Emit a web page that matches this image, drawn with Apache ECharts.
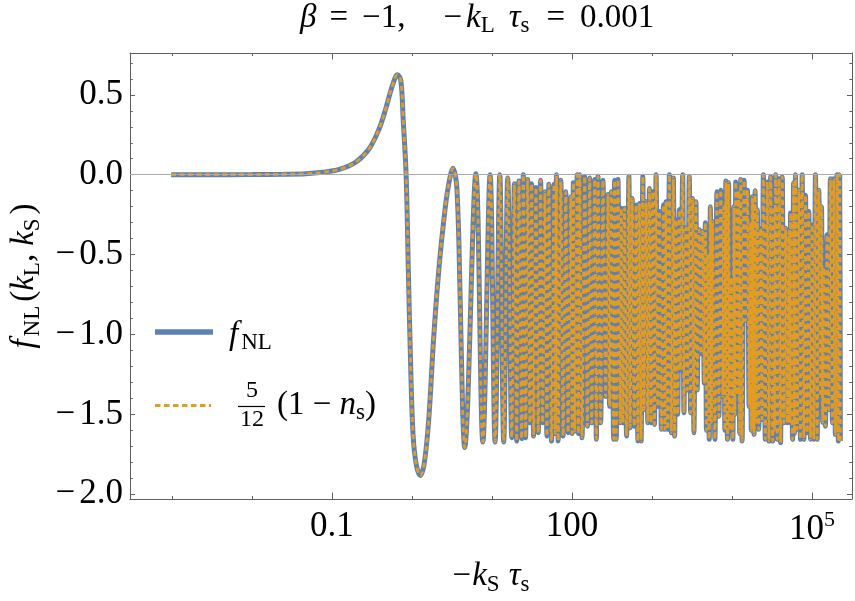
<!DOCTYPE html>
<html>
<head>
<meta charset="utf-8">
<script src="https://cdn.jsdelivr.net/npm/echarts@6/dist/echarts.min.js"></script>
<style>html,body{margin:0;padding:0;background:#fff}#c{width:855px;height:601px}</style>
</head>
<body>
<div id="c"></div>
<script>
// [log10(-kS tau_s), fNL]
const fNLPoints = [
[-3.01,0],[-2.5,0],[-2.0,0.001],[-1.6,0.003],[-1.326,0.006],[-1.118,0.015],[-0.910,0.033],[-0.704,0.078],
[-0.537,0.161],[-0.412,0.285],[-0.33,0.409],[-0.247,0.554],[-0.181,0.626],[-0.139,0.59],[-0.11,0.35],
[-0.073,0],[-0.045,-0.6],[-0.015,-1.22],[0.015,-1.636],[0.056,-1.82],[0.106,-1.883],[0.156,-1.80],
[0.21,-1.53],[0.272,-1.016],[0.335,-0.6],[0.397,-0.29],[0.45,-0.087],[0.513,0.04],[0.562,-0.087],
[0.604,-0.81],[0.635,-1.5],[0.658,-1.708],
[0.799,0.006],[0.886,-1.673],[0.977,0.0],[1.039,-1.673],[1.098,0.0],[1.147,-1.673],[1.197,-0.02],[1.247,-1.646],
[1.28,-0.056],[1.309,-1.667],[1.338,-0.04],[1.371,-1.652],[1.392,0.0],[1.421,-1.646],[1.446,-0.03],[1.475,-1.553],
[1.496,-0.056],[1.521,-1.636],[1.55,-0.08],[1.579,-1.615],[1.608,-0.035],[1.633,-1.553],[1.662,-0.107],[1.687,-1.636],
[1.712,-0.06],[1.745,-1.667],[1.776,-0.06],[1.792,-1.62],[1.807,0.0],[1.828,-1.667],[1.861,-0.035],[1.89,-1.636],
[1.923,-0.107],[1.952,-1.615],[1.986,-0.138],[2.002,-1.62],[2.018,-0.05],[2.035,-1.605],[2.066,0.0],[2.08,-1.62],
[2.0975,0.0],[2.1265,-1.646],[2.1597,-0.01],[2.193,-1.574],[2.222,-0.02],[2.247,-1.553],[2.284,-0.03],[2.305,-1.656],
[2.326,-0.01],[2.359,-1.553],[2.388,-0.035],[2.421,-1.388],[2.450,-0.124],[2.471,-1.45],[2.492,-0.107],[2.521,-1.656],
[2.533,-0.035],[2.554,-1.656],[2.575,-0.03],[2.604,-1.553],[2.616,-0.21],[2.637,-1.553],[2.658,-0.21],[2.683,-1.636],
[2.712,-0.01],[2.728,-1.584],[2.753,-0.149],[2.778,-1.574],[2.803,-0.19],[2.824,-1.667],[2.844,-0.18],[2.865,-1.667],
[2.886,-0.01],[2.902,-1.47],[2.927,-0.169],[2.948,-1.553],[2.969,-0.087],[2.990,-1.553],[3.010,-0.107],[3.031,-1.563],
[3.052,0.0],[3.073,-1.45],[3.093,-0.23],[3.118,-1.594],[3.143,-0.19],[3.160,-1.594],[3.176,-0.169],[3.197,-1.594],
[3.218,0.0],[3.243,-1.615],[3.268,-0.02],[3.284,-1.636],[3.301,-0.283],[3.322,-1.5],[3.342,-0.22],[3.355,-1.223],
[3.384,0.0],[3.400,-1.49],[3.425,-0.335],[3.442,-1.347],[3.467,-0.01],[3.483,-1.49],[3.508,-0.149],[3.525,-1.615],
[3.550,-0.169],[3.566,-1.347],[3.591,-0.345],[3.612,-1.12],[3.633,-0.355],[3.654,-1.305],[3.668,-0.3],[3.681,-1.6],
[3.695,-0.50],[3.716,-1.656],[3.73,-0.2],[3.744,-1.55],
[3.758,-0.293],[3.787,-1.656],[3.812,-0.107],[3.837,-1.512],[3.861,-0.097],[3.886,-1.388],[3.899,-0.2],[3.911,-1.6],
[3.924,-0.04],[3.944,-1.656],[3.958,-0.05],[3.972,-1.6],
[3.986,-0.644],[4.011,-1.656],[4.024,-0.2],[4.036,-1.5],[4.048,-0.045],[4.069,-1.378],[4.083,-0.1],[4.097,-1.62],
[4.110,-0.03],[4.127,-1.667],[4.152,-0.035],[4.169,-0.913],
[4.193,-0.097],[4.214,-1.45],[4.228,-0.3],[4.242,-1.6],[4.256,-0.138],[4.276,-1.625],[4.29,-0.1],[4.304,-1.55],
[4.318,-0.22],[4.335,-1.594],[4.359,-0.335],[4.376,-1.532],
[4.393,0.0],[4.417,-1.656],[4.442,-0.045],[4.463,-1.667],[4.484,-0.014],[4.509,-1.667],[4.521,-0.2],[4.533,-1.6],
[4.546,0.0],[4.567,-1.656],
[4.588,-0.025],[4.608,-1.677],[4.629,-0.014],[4.650,-1.553],[4.671,-0.335],[4.691,-1.553],[4.712,-0.355],[4.725,-1.553],
[4.733,-0.24],[4.758,-1.656],[4.77,-0.05],[4.782,-1.62],[4.795,0.0],[4.816,-1.594],[4.837,-0.097],[4.857,-1.656],
[4.878,0.0],[4.899,-1.656],
[4.920,-0.128],[4.940,-1.615],[4.961,-0.23],[4.982,-1.656],[5.003,-0.314],[5.023,-1.656],[5.044,0.0],[5.065,-1.656],
[5.086,-0.097],[5.106,-1.388],[5.12,-0.2],[5.134,-1.55],[5.148,-0.582],[5.169,-1.574],[5.189,-0.376],[5.210,-1.47],
[5.231,-0.025],[5.256,-1.553],
[5.272,-0.025],[5.293,-1.625],[5.314,0.0],[5.330,-1.667],[5.347,0.0],[5.355,-1.667]
];
// the approximation 5/12(1-ns) coincides with fNL on the picture
const approxPoints = fNLPoints;

const xRange = [2.988e-4, 3.168e5];
const yRange = [-2.03, 0.762];
const xMajorTicks = [0.1, 100, 1e5];
const xMinorTicks = [1e-3, 1e-2, 1, 10, 1000, 1e4];
const yMajorTicks = [-2, -1.5, -1, -0.5, 0, 0.5];
const yMinorTicks = [-1.9,-1.8,-1.7,-1.6,-1.4,-1.3,-1.2,-1.1,-0.9,-0.8,-0.7,-0.6,-0.4,-0.3,-0.2,-0.1,0.1,0.2,0.3,0.4,0.6,0.7];

const FONT = 'Liberation Serif';
const FRAME = '#5f5f5f';
const BLUE = '#5E81B5';
const ORANGE = '#E19C24';

function st(size, extra) {
  return Object.assign({fontFamily: FONT, fontSize: size, color: '#000'}, extra || {});
}
// tick labels
const richTick = {
  t: st(35),
  m: st(35, {padding: [0, 4, 0, 0]}),
  sup: st(22, {padding: [0, 0, 20, 0]})
};
// axis names, legend
const richName = {
  t: st(33),
  i: st(33, {fontStyle: 'italic'}),
  fi: st(33, {fontStyle: 'italic', padding: [0, 3, 0, 0]}),
  m: st(33, {padding: [0, 1, 0, 0]}),
  cm: st(33, {padding: [0, 8, 0, 0]}),
  sub: st(23, {padding: [16, 0, 0, 0]}),
  subg: st(23, {padding: [16, 9, 0, 0]}),
  subp: st(23, {padding: [16, 4, 0, 0]})
};
// title
const richTitle = {
  t: st(33),
  i: st(33, {fontStyle: 'italic'}),
  eq1: st(33, {padding: [0, 14, 0, 13]}),
  m1: st(33, {padding: [0, 4, 0, 38]}),
  tau: st(33, {fontStyle: 'italic', padding: [0, 0, 0, 14]}),
  eq2: st(33, {padding: [0, 15, 0, 17]}),
  sub: st(23, {padding: [16, 0, 0, 0]})
};

function toXY(p) { return [Math.pow(10, p[0]), p[1]]; }

function xAxisDef(pos, ticks, len, showLine, labels) {
  return {
    type: 'log', logBase: 10, position: pos, min: xRange[0], max: xRange[1],
    axisLine: {show: showLine, onZero: false, lineStyle: {color: FRAME, width: 1}},
    axisTick: {show: true, inside: true, length: len, customValues: ticks, lineStyle: {color: FRAME, width: 1}},
    axisLabel: labels ? {
      show: true, customValues: ticks, margin: 10,
      fontFamily: FONT, fontSize: 35, color: '#000',
      formatter: function (v) {
        const e = Math.round(Math.log10(v));
        if (e === -1) return '{t|0.1}';
        if (e === 2) return '{t|100}';
        return '{t|10}{sup|5}';
      },
      rich: richTick
    } : {show: false},
    splitLine: {show: false},
    minorTick: {show: false}, minorSplitLine: {show: false}
  };
}
function yAxisDef(pos, ticks, len, showLine, labels) {
  return {
    type: 'value', position: pos, min: yRange[0], max: yRange[1],
    axisLine: {show: showLine, onZero: false, lineStyle: {color: FRAME, width: 1}},
    axisTick: {show: true, inside: true, length: len, customValues: ticks, lineStyle: {color: FRAME, width: 1}},
    axisLabel: labels ? {
      show: true, customValues: ticks, margin: 7,
      fontFamily: FONT, fontSize: 35, color: '#000',
      formatter: function (v) {
        const r = Math.round(v * 10) / 10;
        return (r < 0 ? '{m|\u2212}' : '') + '{t|' + Math.abs(r).toFixed(1) + '}';
      },
      rich: richTick
    } : {show: false},
    splitLine: {show: false}
  };
}

const xAxes = [
  xAxisDef('bottom', xMajorTicks, 6.5, true, true),
  xAxisDef('bottom', xMinorTicks, 3, false, false),
  xAxisDef('top', xMajorTicks, 6.5, true, false),
  xAxisDef('top', xMinorTicks, 3, false, false)
];
Object.assign(xAxes[0], {
  name: '{m|\u2212}{i|k}{subg|S}{i|\u03c4}{sub|s}', nameLocation: 'middle', nameGap: 58,
  nameTextStyle: {rich: richName}
});
const yAxes = [
  yAxisDef('left', yMajorTicks, 5, true, true),
  yAxisDef('left', yMinorTicks, 2.7, false, false),
  yAxisDef('right', yMajorTicks, 5, true, false),
  yAxisDef('right', yMinorTicks, 2.7, false, false)
];
Object.assign(yAxes[0], {
  name: '{fi|f}{subp|NL}{t|(}{i|k}{sub|L}{cm|,}{i|k}{subp|S}{t|)}', nameLocation: 'middle', nameGap: 86,
  nameTextStyle: {rich: richName}
});

const chart = echarts.init(document.getElementById('c'), null, {renderer: 'canvas'});
chart.setOption({
  animation: false,
  backgroundColor: '#fff',
  grid: {left: 127, right: 3, top: 53, bottom: 98, containLabel: false},
  xAxis: xAxes,
  yAxis: yAxes,
  series: [
    {
      type: 'line', data: [], z: 1, silent: true,
      markLine: {silent: true, symbol: 'none', label: {show: false},
        lineStyle: {color: '#aaa', width: 1, type: 'solid'}, data: [{yAxis: 0}], animation: false}
    },
    {
      name: 'fNL', type: 'line', data: fNLPoints.map(toXY), showSymbol: false, symbol: 'none',
      smooth: 0.35, z: 2, lineStyle: {color: BLUE, width: 5}
    },
    {
      name: 'approx', type: 'line', data: approxPoints.map(toXY), showSymbol: false, symbol: 'none',
      smooth: 0.35, z: 3, lineStyle: {color: ORANGE, width: 2.8, type: [5, 3.5]}
    }
  ],
  graphic: [
    {type: 'text', x: 300, y: 18, style: {
      text: '{i|\u03b2}{eq1|=}{t|\u22121,}{m1|\u2212}{i|k}{sub|L}{tau|\u03c4}{sub|s}{eq2|=}{t|0.001}',
      rich: richTitle, textAlign: 'left', textVerticalAlign: 'middle'}},
    {type: 'line', shape: {x1: 155, y1: 332, x2: 213, y2: 332}, style: {stroke: BLUE, lineWidth: 5.5}},
    {type: 'text', x: 229, y: 335, style: {text: '{fi|f}{sub|NL}', rich: richName, textVerticalAlign: 'middle'}},
    {type: 'line', shape: {x1: 155, y1: 405.5, x2: 211, y2: 405.5}, style: {stroke: ORANGE, lineWidth: 2.8, lineDash: [5.5, 3.5]}},
    {type: 'text', x: 252, y: 391, style: {text: '5', fontFamily: FONT, fontSize: 24, fill: '#000', textAlign: 'center', textVerticalAlign: 'middle'}},
    {type: 'line', shape: {x1: 238, y1: 406.5, x2: 265, y2: 406.5}, style: {stroke: '#000', lineWidth: 1.2}},
    {type: 'text', x: 252, y: 420, style: {text: '12', fontFamily: FONT, fontSize: 24, fill: '#000', textAlign: 'center', textVerticalAlign: 'middle'}},
    {type: 'text', x: 277, y: 405, style: {text: '{t|(1 \u2212 }{i|n}{sub|s}{t|)}', rich: richName, textVerticalAlign: 'middle'}}
  ]
});
</script>
</body>
</html>
